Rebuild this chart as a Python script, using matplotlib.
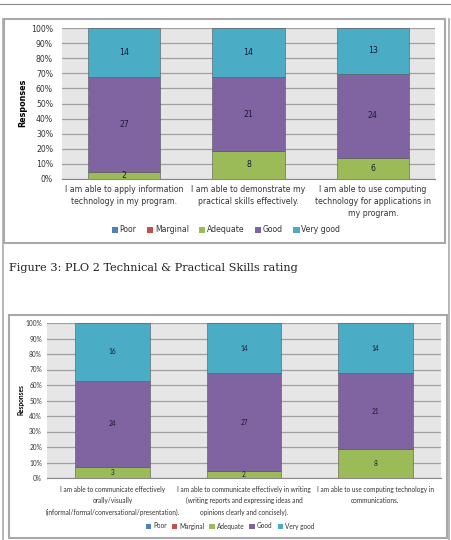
import numpy as np
import matplotlib
matplotlib.use('Agg')
import matplotlib.pyplot as plt
from matplotlib.patches import Rectangle, Patch
from matplotlib.lines import Line2D

W, H = 452, 540

levels = ['Poor', 'Marginal', 'Adequate', 'Good', 'Very good']
colors = ['#4f81bd', '#c0504d', '#9bbb59', '#8064a2', '#4bacc6']

# figure 3 (top) data
top_cats = ['I am able to apply information\ntechnology in my program.',
            'I am able to demonstrate my\npractical skills effectively.',
            'I am able to use computing\ntechnology for applications in\nmy program.']
top_poor = [0, 0, 0]
top_marginal = [0, 0, 0]
top_adequate = [2, 8, 6]
top_good = [27, 21, 24]
top_vgood = [14, 14, 13]

# bottom chart data
bot_cats = ['I am able to communicate effectively\norally/visually\n(informal/formal/conversational/presentation).',
            'I am able to communicate effectively in writing\n(writing reports and expressing ideas and\nopinions clearly and concisely).',
            'I am able to use computing technology in\ncommunications.']
bot_poor = [0, 0, 0]
bot_marginal = [0, 0, 0]
bot_adequate = [3, 2, 8]
bot_good = [24, 27, 21]
bot_vgood = [16, 14, 14]

pct_ticks = [0, 10, 20, 30, 40, 50, 60, 70, 80, 90, 100]


def px_axes(fig, left, top, right, bottom):
    return fig.add_axes([left / W, 1 - bottom / H, (right - left) / W, (bottom - top) / H])


def px_rect(fig, left, top, right, bottom, **kw):
    fig.add_artist(Rectangle((left / W, 1 - bottom / H), (right - left) / W, (bottom - top) / H,
                             transform=fig.transFigure, fill=False, **kw))


def stacked(ax, series, cats, fam, fs, width, tickpad, labcol, lsp, xpad):
    x = np.arange(len(cats))
    data = np.array(series, dtype=float)
    tot = data.sum(axis=0)
    base = np.zeros(len(cats))
    ax.set_facecolor('#e6e6e6')
    for i, row in enumerate(data):
        p = row / tot * 100
        ax.bar(x, p, width, bottom=base, color=colors[i], edgecolor='#555555', linewidth=0.4, zorder=3)
        for j in range(len(cats)):
            if row[j] > 0:
                ax.text(x[j], base[j] + p[j] / 2, '%d' % row[j], ha='center', va='center',
                        fontsize=fs, family=fam, color=labcol, zorder=4)
        base = base + p
    ax.set_xlim(-0.5, len(cats) - 0.5)
    ax.set_ylim(0, 100)
    ax.set_yticks(pct_ticks)
    ax.set_yticklabels(['%d%%' % t for t in pct_ticks], fontsize=fs, family=fam, color='#333333')
    ax.set_xticks(x)
    ax.set_xticklabels(cats, fontsize=fs, family=fam, color='#333333', linespacing=lsp)
    ax.tick_params(axis='y', length=0, pad=tickpad)
    ax.tick_params(axis='x', length=0, pad=xpad)
    ax.grid(axis='y', color='#a0a0a0', linewidth=0.9, zorder=1)
    for s in ['top', 'right', 'left']:
        ax.spines[s].set_visible(False)
    ax.spines['bottom'].set_color('#888888')
    ax.spines['bottom'].set_linewidth(0.8)


fig = plt.figure(figsize=(W / 100, H / 100), dpi=100)
fig.patch.set_facecolor('white')

# page decorations
fig.add_artist(Line2D([0, 1], [1 - 3.5 / H] * 2, transform=fig.transFigure, color='#888888', lw=0.8))
fig.add_artist(Line2D([3 / W] * 2, [0, 1 - 19 / H], transform=fig.transFigure, color='#aaaaaa', lw=1.2))
fig.add_artist(Line2D([449 / W] * 2, [0, 1 - 19 / H], transform=fig.transFigure, color='#aaaaaa', lw=1.2))
px_rect(fig, 4, 19, 445, 243, edgecolor='#a8a8a8', lw=1.5)
px_rect(fig, 9, 315, 447, 538, edgecolor='#a8a8a8', lw=1.5)

# top chart
top_fam = ['DejaVu Sans']
ax1 = px_axes(fig, 62, 28, 435, 179)
stacked(ax1, [top_poor, top_marginal, top_adequate, top_good, top_vgood], top_cats,
        top_fam, 5.6, 0.58, 6.5, '#1a1a2e', 1.4, 4.5)
fig.text(23 / W, 1 - 103 / H, 'Responses', rotation=90, ha='center', va='center',
         fontsize=5.8, family=top_fam, fontweight='bold')
handles = [Patch(facecolor=c, edgecolor='none') for c in colors]
fig.legend(handles, levels, loc='center', bbox_to_anchor=(226 / W, 1 - 230 / H), ncol=5, frameon=False,
           prop={'family': top_fam, 'size': 5.6}, handlelength=0.8, handleheight=0.8,
           handletextpad=0.25, columnspacing=1.3, labelcolor='#333333')

fig.text(9 / W, 1 - 268 / H, 'Figure 3: PLO 2 Technical & Practical Skills rating', ha='left', va='center',
         fontsize=8.1, family=['DejaVu Serif'], color='#222222')

# bottom chart
bot_fam = ['Lato', 'DejaVu Sans']
ax2 = px_axes(fig, 47, 323, 441, 478)
stacked(ax2, [bot_poor, bot_marginal, bot_adequate, bot_good, bot_vgood], bot_cats,
        bot_fam, 4.7, 0.57, 3.6, '#1a1a2e', 1.75, 5.5)
fig.text(21 / W, 1 - 400 / H, 'Responses', rotation=90, ha='center', va='center',
         fontsize=4.7, family=bot_fam, fontweight='bold')
fig.legend(handles, levels, loc='center', bbox_to_anchor=(230 / W, 1 - 526 / H), ncol=5, frameon=False,
           prop={'family': bot_fam, 'size': 4.7}, handlelength=0.8, handleheight=0.8,
           handletextpad=0.3, columnspacing=0.8, labelcolor='#333333')

fig.savefig('out.png', dpi=100)
